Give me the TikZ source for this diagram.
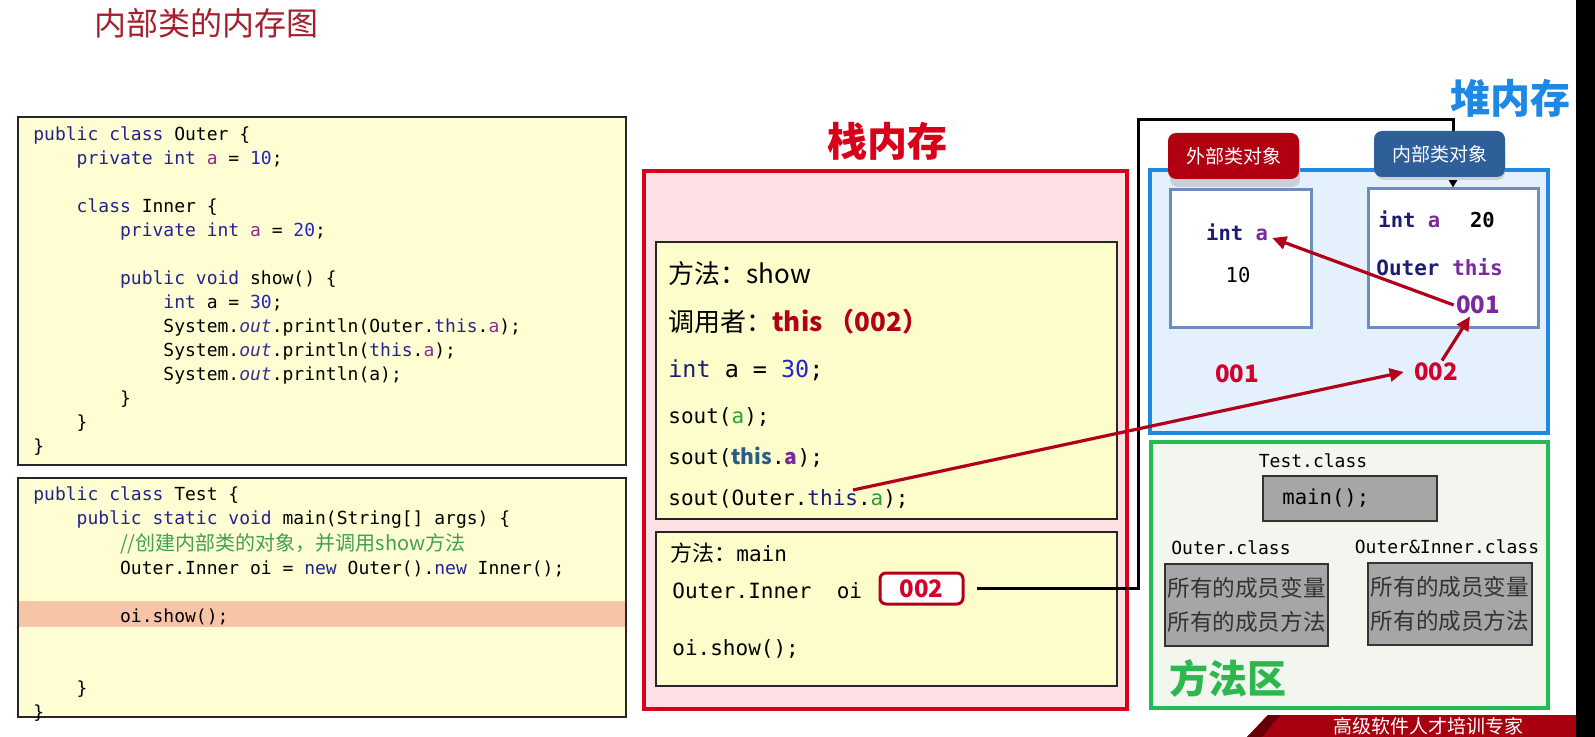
\documentclass[tikz,border=0pt]{standalone}
\usepackage{fontspec}
\setmainfont{Noto Sans CJK SC}
\setmonofont{DejaVu Sans Mono}
\usetikzlibrary{arrows.meta,fit,calc}
\newcommand\ind[1]{\hspace*{#1\fontcharwd\font`x\relax}}
\definecolor{codeyel}{HTML}{FEFED2}
\definecolor{frameyel}{HTML}{FDFDCB}
\definecolor{hl}{HTML}{F8C4A8}
\definecolor{kw}{HTML}{23238E}
\definecolor{fld}{HTML}{8E2C8E}
\definecolor{num}{HTML}{2323C8}
\definecolor{outc}{HTML}{3B2D9C}
\definecolor{cmt}{HTML}{3FA04F}
\definecolor{titred}{HTML}{A5202E}
\definecolor{stkred}{HTML}{D9001B}
\definecolor{stkfill}{HTML}{FDE0E4}
\definecolor{heapblue}{HTML}{1E88E5}
\definecolor{heapfill}{HTML}{E4F1FC}
\definecolor{objborder}{HTML}{6C8EBF}
\definecolor{lblred}{HTML}{B10012}
\definecolor{lblblue}{HTML}{2E5F98}
\definecolor{arrred}{HTML}{B0001A}
\definecolor{addrred}{HTML}{D4002B}
\definecolor{purp}{HTML}{7A2A9C}
\definecolor{navy}{HTML}{1C1C72}
\definecolor{grn}{HTML}{2AA03A}
\definecolor{mgreen}{HTML}{22BB55}
\definecolor{mtitle}{HTML}{2DB84F}
\definecolor{mfill}{HTML}{F3F5EF}
\definecolor{gbox}{HTML}{A6A6A6}
\definecolor{thisblue}{HTML}{2B5C8A}
\definecolor{banner}{HTML}{A8000F}
\definecolor{shadowc}{HTML}{C9CED8}
\tikzset{
  codebox/.style={draw=black!85, line width=1pt, fill=codeyel, inner sep=0},
  codetext/.style={anchor=north west, inner sep=0, align=left, font=\fontsize{9}{12}\selectfont\ttfamily},
  framebox/.style={draw=black!85, line width=0.75pt, fill=frameyel, inner sep=0},
  ln/.style={anchor=base west, inner sep=0},
  objbox/.style={draw=objborder, line width=1.5pt, fill=white, inner sep=0},
  graybox/.style={draw=black!80, line width=0.75pt, fill=gbox, inner sep=0},
  lbl/.style={rounded corners=4pt, text=white, font=\fontsize{9.5}{11}\selectfont, minimum width=65.5pt, minimum height=23pt, inner sep=0},
  addr/.style={inner sep=1pt, text=addrred, font=\bfseries\fontsize{12}{14}\selectfont},
  hmono/.style={inner sep=0, text=navy, font=\ttfamily\bfseries\fontsize{10.25}{12}\selectfont},
  cls/.style={inner sep=0, font=\ttfamily\fontsize{9}{11}\selectfont},
  arr/.style={draw=arrred, line width=1.6pt, -{Triangle[length=7pt,width=6.5pt]}},
  blk/.style={draw=black, line width=1.5pt, -{Triangle[length=5pt,width=5.5pt]}},
}
\begin{document}
\begin{tikzpicture}[x=0.5pt,y=-0.5pt]
\useasboundingbox (0,0) rectangle (1595,737);
\fill[white] (0,0) rectangle (1595,737);

% title
\node[inner sep=0, text=titred, font=\fontsize{16}{18}\selectfont] (title) at (206,23) {内部类的内存图};

% code box 1
\node[codebox, fit={(18,117) (626,465)}] (cb1) {};
\node[codetext] (code1) at (33,123) {\strut\textcolor{kw}{public class} Outer \{\\
\strut\ind4\textcolor{kw}{private int} \textcolor{fld}{a} = \textcolor{num}{10};\\
\strut\\
\strut\ind4\textcolor{kw}{class} Inner \{\\
\strut\ind8\textcolor{kw}{private int} \textcolor{fld}{a} = \textcolor{num}{20};\\
\strut\\
\strut\ind8\textcolor{kw}{public void} show() \{\\
\strut\ind{12}\textcolor{kw}{int} a = \textcolor{num}{30};\\
\strut\ind{12}System.\textcolor{outc}{\textit{out}}.println(Outer.\textcolor{kw}{this}.\textcolor{fld}{a});\\
\strut\ind{12}System.\textcolor{outc}{\textit{out}}.println(\textcolor{kw}{this}.\textcolor{fld}{a});\\
\strut\ind{12}System.\textcolor{outc}{\textit{out}}.println(a);\\
\strut\ind8\}\\
\strut\ind4\}\\
\strut\}};

% code box 2
\node[codebox, fit={(18,478) (626,717)}] (cb2) {};
\fill[hl] (19,601) rectangle (625,627);
\node[codetext] (code2) at (33,483) {\strut\textcolor{kw}{public class} Test \{\\
\strut\ind4\textcolor{kw}{public static void} main(String[] args) \{\\
\strut\ind8{\rmfamily\fontsize{10}{12}\selectfont\textcolor{cmt}{//创建内部类的对象，并调用show方法}}\\
\strut\ind8Outer.Inner oi = \textcolor{kw}{new} Outer().\textcolor{kw}{new} Inner();\\
\strut\\
\strut\ind8oi.show();\\
\strut\\
\strut\\
\strut\ind4\}\\
\strut\}};

% stack
\node[inner sep=0, text=stkred, font=\bfseries\fontsize{20}{22}\selectfont] (stitle) at (887,141) {栈内存};
\node[fit={(644,171) (1127,709)}, inner sep=0, draw=stkred, line width=2pt, fill=stkfill] (stack) {};
\node[framebox, fit={(656,242) (1117,519)}] (fshow) {};
\node[framebox, fit={(656,532) (1117,686)}] (fmain) {};

\node[ln, font=\fontsize{13}{15}\selectfont] (s1) at (668,284) {方法：show};
\node[ln, font=\fontsize{13}{15}\selectfont] (s2) at (668,332) {调用者：\textcolor{arrred}{\bfseries this （002）}};
\node[ln, font=\ttfamily\fontsize{11.7}{14}\selectfont] (s3) at (668,378) {\textcolor{navy}{int} a = \textcolor{num}{30};};
\node[ln, font=\ttfamily\fontsize{10.5}{12}\selectfont] (s4) at (668,423) {sout(\textcolor{grn}{a});};
\node[ln, font=\ttfamily\fontsize{10.5}{12}\selectfont] (s5) at (668,465) {sout(\textcolor{thisblue}{\rmfamily\bfseries this}.\textcolor{purp}{\rmfamily\bfseries a});};
\node[ln, font=\ttfamily\fontsize{10.5}{12}\selectfont] (s6) at (668,505) {sout(Outer.\textcolor{navy}{this}.\textcolor{grn}{a});};
\coordinate (src) at (853,490);

\node[ln, font=\fontsize{11}{13}\selectfont] (m1) at (670,561) {方法：{\ttfamily\fontsize{10.5}{12}\selectfont main}};
\node[ln, font=\ttfamily\fontsize{10.5}{12}\selectfont] (m2) at (672,598) {Outer.Inner\ \ oi};
\node[ln, font=\ttfamily\fontsize{10.5}{12}\selectfont] (m3) at (672,655) {oi.show();};
\node[fit={(880,573) (963,604)}, inner sep=0, rounded corners=3pt, draw=arrred, line width=1.5pt, fill=white] (oibox) {};
\node[addr] (oival) at (oibox.center) {002};

% heap
\node[inner sep=0, text=heapblue, font=\bfseries\fontsize{20}{22}\selectfont] (htitle) at (1510,98) {堆内存};
\node[fit={(1150,170) (1548,433)}, inner sep=0, draw=heapblue, line width=2pt, fill=heapfill] (heap) {};
\node[objbox, fit={(1170,190) (1311,328)}] (outobj) {};
\node[objbox, fit={(1368,189) (1538,328)}] (inobj) {};

% reference from oi to inner object
\coordinate (c1) at (1138,120);
\coordinate (c2) at (1453,120);
\draw[blk] ([xshift=6pt]oibox.east) -- (oibox.east -| c1) -- (c1) -- (c2) -- (c2 |- inobj.north);

% object labels
\fill[shadowc, rounded corners=4pt] (1170,141) rectangle (1300,187);
\node[lbl, fill=lblred] (lblout) at (1233.5,156) {外部类对象};
\fill[shadowc, rounded corners=4pt] (1376,138) rectangle (1505,180);
\node[lbl, fill=lblblue] (lblin) at (1439.5,154) {内部类对象};

\node[hmono] (oia) at (1237,232) {int \textcolor{purp}{a}};
\node[inner sep=0, font=\ttfamily\fontsize{10.25}{12}\selectfont] (o10) at (1238,275) {10};
\node[hmono, anchor=west] (ia) at (1378,219) {int \textcolor{purp}{a}\hspace*{15pt}\textcolor{black}{20}};
\node[hmono, anchor=west, font=\ttfamily\bfseries\fontsize{10.5}{12}\selectfont] (iot) at (1376,267) {Outer \textcolor{purp}{this}};
\node[addr, text=purp] (i001) at (1478,305) {001};
\node[addr] (h001) at (1237,374) {001};
\node[addr] (h002) at (1436,372) {002};

% method area
\node[fit={(1151,442) (1548,708)}, inner sep=0, draw=mgreen, line width=2pt, fill=mfill] (marea) {};
\node[cls] (tcls) at (1313,461) {Test.class};
\node[graybox, fit={(1263,476) (1437,521)}] (mainbox) {};
\node[inner sep=0, anchor=west, font=\ttfamily\fontsize{10.3}{12}\selectfont] (mtxt) at (1282,498) {main();};
\node[cls] (ocls) at (1231,548) {Outer.class};
\node[cls] (oicls) at (1447,547) {Outer\&Inner.class};
\node[graybox, fit={(1165,564) (1328,646)}] (g1) {};
\node[graybox, fit={(1368,563) (1532,645)}] (g2) {};
\node[inner sep=0, align=center, text=black!80, font=\fontsize{11.3}{17}\selectfont] (g1t) at (g1.center) {所有的成员变量\\所有的成员方法};
\node[inner sep=0, align=center, text=black!80, font=\fontsize{11.3}{17}\selectfont] (g2t) at (g2.center) {所有的成员变量\\所有的成员方法};
\node[inner sep=0, text=mtitle, font=\bfseries\fontsize{19.5}{22}\selectfont] (mtitle) at (1228,678) {方法区};

% red arrows
\draw[arr] (src) -- ([xshift=-4pt]h002.west);
\draw[arr] ([xshift=3pt]h002.north) -- ([xshift=-4pt]i001.south);
\draw[arr] (i001.west) -- ([yshift=-3pt,xshift=2pt]oia.east);

% banner and edge
\fill[banner] (1247,737) -- (1268,715) -- (1576,715) -- (1576,737) -- cycle;
\fill[banner!60!black] (1247,737) -- (1268,715) -- (1280,715) -- (1262,737) -- cycle;
\node[inner sep=0, text=white, font=\fontsize{9.5}{10}\selectfont] (bantext) at (1428,726) {高级软件人才培训专家};
\fill[black] (1576,0) rectangle (1595,737);
\end{tikzpicture}
\end{document}
